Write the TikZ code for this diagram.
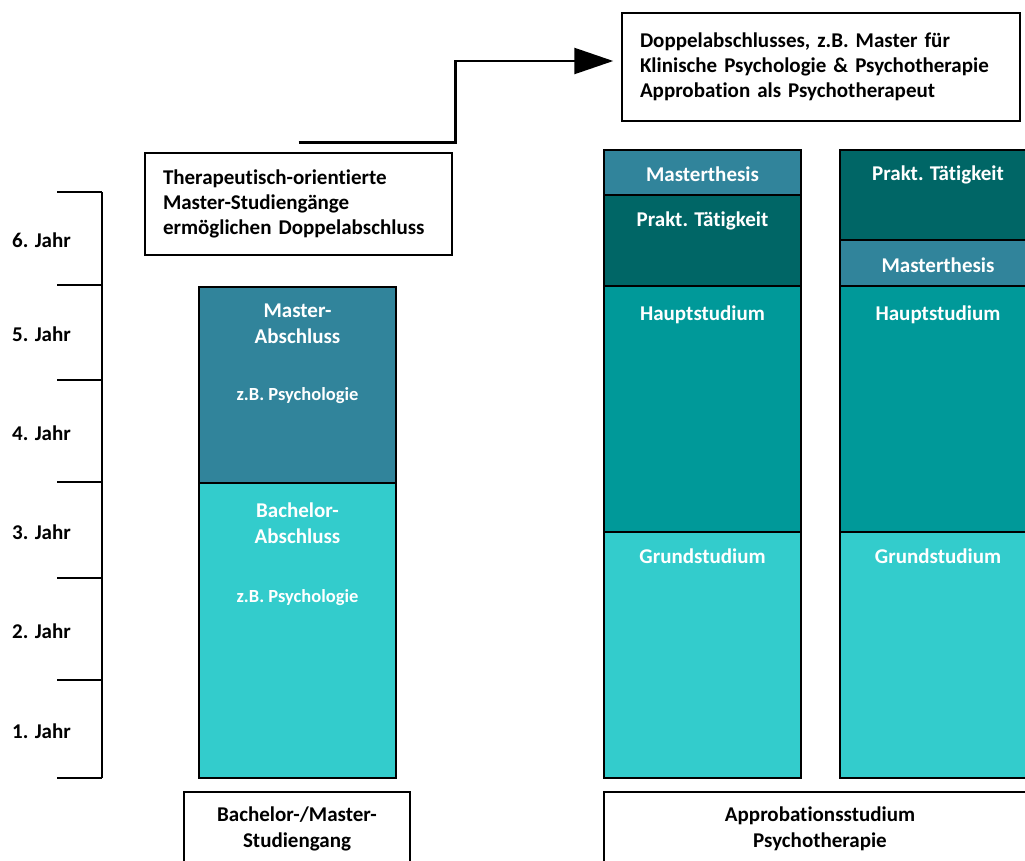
\documentclass[tikz,border=0pt]{standalone}
\usepackage{fontspec}
\setmainfont{Carlito}[Ligatures=CommonOff]
\usepackage{tikz}
\usetikzlibrary{arrows.meta}

\definecolor{masterblue}{HTML}{31849B}
\definecolor{bachelorcyan}{HTML}{33CCCC}
\definecolor{hauptteal}{HTML}{009999}
\definecolor{praktgreen}{HTML}{006666}

\tikzset{
  block/.style={draw=black, line width=1.5pt},
  head/.style={text=white, font=\bfseries\fontsize{21}{26}\selectfont, align=center},
  small/.style={text=white, font=\bfseries\fontsize{18.5}{22}\selectfont},
  infobox/.style={draw=black, line width=1.5pt, fill=white, inner xsep=18pt, align=left,
    font=\bfseries\fontsize{21}{25}\selectfont},
  yearlbl/.style={anchor=west, inner sep=0pt, font=\bfseries\fontsize{21}{24}\selectfont}
}

\begin{document}
\begin{tikzpicture}[x=1pt,y=-1pt]
		\useasboundingbox (0,0) rectangle (1025,860);
		% year scale
		\draw[line width=1.5pt] (102,192) -- (102,778);
		\foreach \ya/\yb/\n in {192/285/6,285/380/5,380/482/4,482/578/3,578/680/2,680/778/1}{
			\draw[line width=1.5pt] (57,\ya) -- (102,\ya);
			\node[yearlbl] (year\n) at (12,{(\ya+\yb)/2+2}) {\n. Jahr};
		}
		\draw[line width=1.5pt] (57,778) -- (102,778);

		% Bachelor/Master column
		\draw[block, fill=bachelorcyan] (199,483) rectangle (396,778);
		\draw[block, fill=masterblue] (199,287) rectangle (396,483);
		\node[head] (masterlbl) at (297.5,324) {Master-\\Abschluss};
		\node[small] (masterbsp) at (297.5,396) {z.B. Psychologie};
		\node[head] (bachelorlbl) at (297.5,523) {Bachelor-\\Abschluss};
		\node[small] (bachelorbsp) at (297.5,598) {z.B. Psychologie};

		% Approbationsstudium, first variant
		\draw[block, fill=bachelorcyan] (604,532) rectangle (801,778);
		\draw[block, fill=hauptteal] (604,286) rectangle (801,532);
		\draw[block, fill=praktgreen] (604,195) rectangle (801,286);
		\draw[block, fill=masterblue] (604,150) rectangle (801,195);
		\node[head] (thesisA) at (702.5,174) {Masterthesis};
		\node[head] (praktA) at (702.5,221) {Prakt. Tätigkeit};
		\node[head] (hauptA) at (702.5,315) {Hauptstudium};
		\node[head] (grundA) at (702.5,556) {Grundstudium};

		% Approbationsstudium, second variant
		\draw[block, fill=bachelorcyan] (840,532) rectangle (1036,778);
		\draw[block, fill=hauptteal] (840,286) rectangle (1036,532);
		\draw[block, fill=masterblue] (840,240) rectangle (1036,286);
		\draw[block, fill=praktgreen] (840,150) rectangle (1036,240);
		\node[head] (praktB) at (938,175) {Prakt. Tätigkeit};
		\node[head] (thesisB) at (938,265) {Masterthesis};
		\node[head] (hauptB) at (938,315) {Hauptstudium};
		\node[head] (grundB) at (938,556) {Grundstudium};

		% captions below
		\draw[block, fill=white] (184,792) rectangle (410,880);
		\node[head, text=black] (bmcap) at (297,829) {Bachelor-/Master-\\Studiengang};
		\draw[block, fill=white] (604,792) rectangle (1036,880);
		\node[head, text=black] (apcap) at (820,829) {Approbationsstudium\\Psychotherapie};

		% info boxes and arrow
		\node[infobox, minimum width=307pt, minimum height=102pt, text width=271pt] (thera) at (298.5,204)
			{Therapeutisch-orientierte\\Master-Studiengänge\\ermöglichen Doppelabschluss};
		\node[infobox, minimum width=398pt, minimum height=108pt, text width=362pt] (doppel) at (821,67)
			{Doppelabschlusses, z.B. Master für\\Klinische Psychologie \& Psychotherapie\\Approbation als Psychotherapeut};
		\draw[line width=2.5pt, -{Triangle[length=39pt,width=26pt]}] ([yshift=10pt]thera.north) -| ([xshift=-166pt,yshift=6pt]doppel.west) -- ([xshift=-8pt,yshift=6pt]doppel.west);
	\end{tikzpicture}
\end{document}
